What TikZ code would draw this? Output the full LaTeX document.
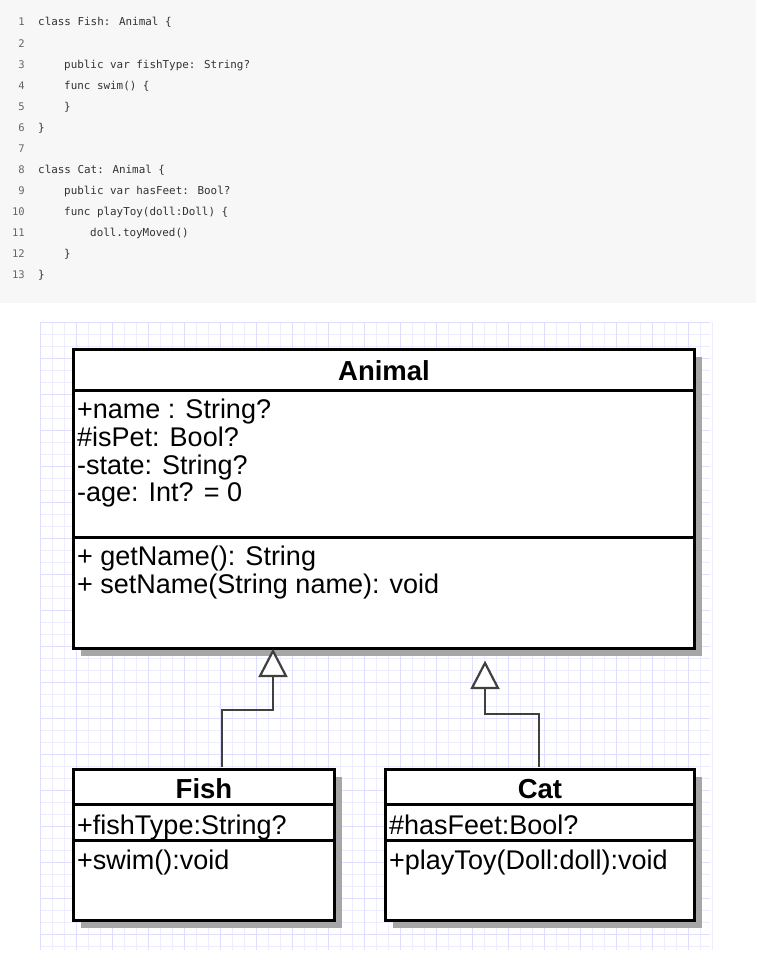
\documentclass[tikz,border=0pt]{standalone}
\usepackage{fontspec}
\setmainfont{Liberation Sans}
\newfontfamily\codefont{DejaVu Sans Mono}
\begin{document}
\begin{tikzpicture}[x=1pt,y=-1pt,
  code/.style={anchor=base west,inner sep=0,font=\codefont\fontsize{10.9}{12}\selectfont,text=black!80},
  num/.style={anchor=base east,inner sep=0,font=\codefont\fontsize{10.5}{12}\selectfont,text=black!60},
  umlbox/.style={draw=black,line width=3pt,fill=white},
  shadow/.style={fill=black!35},
  attr/.style={anchor=base west,inner sep=0,font=\fontsize{27}{30}\selectfont},
  ttl/.style={anchor=base,inner sep=0,font=\bfseries\fontsize{27.5}{30}\selectfont},
  conn/.style={draw=black!75,line width=2.4pt},
  tri/.style={draw=black!75,line width=2.2pt,fill=white,line join=miter}]
\useasboundingbox (0,0) rectangle (756,961);
\fill[black!3] (0,0) rectangle (756,303);
% code
\foreach \n/\y in {1/25,2/47,3/68,4/89,5/110,6/131,7/152,8/173,9/194,10/215,11/236,12/257,13/278}
  \node[num] at (25,\y) {\n};
\node[code] (c1) at (38,25) {class Fish: Animal \{};
\node[code] (c3) at (64,68) {public var fishType: String?};
\node[code] (c4) at (64,89) {func swim() \{};
\node[code] (c5) at (64,110) {\}};
\node[code] (c6) at (38,131) {\}};
\node[code] (c8) at (38,173) {class Cat: Animal \{};
\node[code] (c9) at (64,194) {public var hasFeet: Bool?};
\node[code] (c10) at (64,215) {func playToy(doll:Doll) \{};
\node[code] (c11) at (90,236) {doll.toyMoved()};
\node[code] (c12) at (64,257) {\}};
\node[code] (c13) at (38,278) {\}};
% grid
\foreach \i in {0,...,56} {
  \draw[blue!7,line width=0.6pt] (40+12*\i,322) -- (40+12*\i,950);
}
\foreach \j in {0,...,52} {
  \draw[blue!7,line width=0.6pt] (40,322+12*\j) -- (710,322+12*\j);
}
\foreach \i in {0,...,18} {
  \draw[blue!13,line width=0.8pt] (40+36*\i,322) -- (40+36*\i,950);
}
\foreach \j in {0,...,17} {
  \draw[blue!13,line width=0.8pt] (40,322+36*\j) -- (710,322+36*\j);
}
% Animal
\fill[shadow] (81,357) rectangle (702,656);
\draw[umlbox] (73,349) rectangle (694,648);
\draw[line width=3pt] (73,390) -- (694,390) (73,537) -- (694,537);
\node[ttl] (animal) at (384,380) {Animal};
\node[attr] at (77,418) {+name : String?};
\node[attr] at (77,446) {\#isPet: Bool?};
\node[attr] at (77,474) {-state: String?};
\node[attr] at (77,501) {-age: Int? = 0};
\node[attr] at (77,565) {+ getName(): String};
\node[attr] at (77,593) {+ setName(String name): void};
% Fish
\fill[shadow] (81,777) rectangle (342,928);
\draw[umlbox] (73,769) rectangle (334,920);
\draw[line width=3pt] (73,804) -- (334,804) (73,840) -- (334,840);
\node[ttl] (fish) at (204,798) {Fish};
\node[attr] at (77,834) {+fishType:String?};
\node[attr] at (77,869) {+swim():void};
% Cat
\fill[shadow] (393,777) rectangle (702,928);
\draw[umlbox] (385,769) rectangle (694,920);
\draw[line width=3pt] (385,804) -- (694,804) (385,840) -- (694,840);
\node[ttl] (cat) at (540,798) {Cat};
\node[attr] at (389,834) {\#hasFeet:Bool?};
\node[attr] at (389,869) {+playToy(Doll:doll):void};
% connectors
\coordinate (fs) at (222,767);
\coordinate (ft) at (273,676);
\coordinate (cs) at (539,767);
\coordinate (ct) at (485,688);
\draw[conn] (fs) -- (222,710) -- (273,710) -- (ft);
\draw[tri] (ft) -- ++(-13,0) -- ++(13,-25) -- ++(13,25) -- cycle;
\draw[conn] (cs) -- (539,714) -- (485,714) -- (ct);
\draw[tri] (ct) -- ++(-13,0) -- ++(13,-25) -- ++(13,25) -- cycle;
\end{tikzpicture}
\end{document}
